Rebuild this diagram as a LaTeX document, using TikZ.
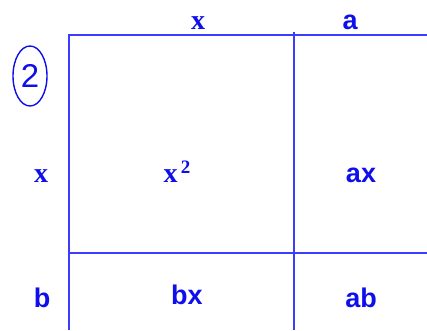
\documentclass[tikz,border=0pt]{standalone}
\usepackage{fontspec}
\usetikzlibrary{shapes.geometric}
\setmainfont{Liberation Serif}
\setsansfont{Liberation Sans}
\definecolor{linecol}{RGB}{60,60,255}
\definecolor{txtcol}{RGB}{15,15,235}
\begin{document}
\begin{tikzpicture}[x=1pt,y=-1pt,
  serlab/.style={text=txtcol,font=\fontsize{28}{30}\selectfont\bfseries\rmfamily,inner sep=0pt,anchor=base},
  sanlab/.style={text=txtcol,font=\fontsize{27}{30}\selectfont\bfseries\sffamily,inner sep=0pt,anchor=base},
  outer/.style={draw=linecol,line width=2.6pt},
  inner/.style={draw=linecol,line width=2pt}]
\useasboundingbox (0,0) rectangle (427,330);
% grid coordinates
\coordinate (tl) at (69,35);
\coordinate (tr) at (427,35);
\coordinate (bl) at (69,330);
\coordinate (mt) at (294,32);
\coordinate (mb) at (294,330);
\coordinate (ml) at (69,253);
\coordinate (mr) at (427,253);
\draw[inner] (mt) -- (mb);
\draw[inner] (ml) -- (mr);
\draw[outer] (tr) -- (tl) -- (bl);
% labels
\node[serlab] (topx) at (198,29) {x};
\node[sanlab] (topa) at (350,29) {a};
\node[serlab] (leftx) at (41,182) {x};
\node[serlab] (xsq) at (177,182) {x\raisebox{9pt}{\fontsize{19}{20}\selectfont\,2}};
\node[sanlab] (ax) at (361,182) {ax};
\node[sanlab] (b) at (42,307) {b};
\node[sanlab] (bx) at (187,304) {bx};
\node[sanlab] (ab) at (361,307) {ab};
% circled 2
\node[draw=txtcol,line width=1.4pt,ellipse,minimum width=34pt,minimum height=60pt,inner sep=0pt,
  text=txtcol,font=\fontsize{33}{34}\selectfont\sffamily] (two) at (30,76) {2};
\end{tikzpicture}
\end{document}
